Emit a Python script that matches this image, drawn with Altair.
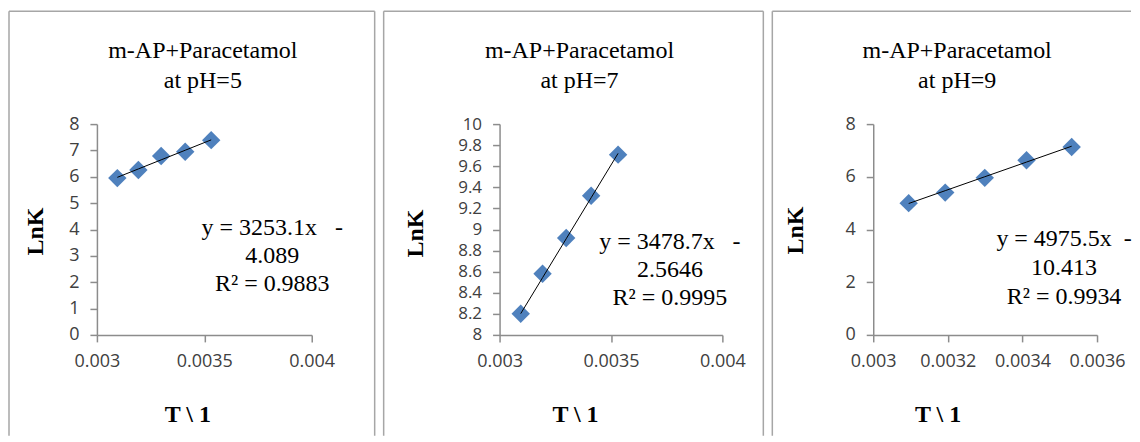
import altair as alt
import pandas as pd

# ---------------- data ----------------
inv_T = [0.003095, 0.003193, 0.003299, 0.003411, 0.003532]
lnk_ph5 = [5.95, 6.26, 6.79, 6.95, 7.39]
lnk_ph7 = [8.20, 8.58, 8.92, 9.32, 9.71]
lnk_ph9 = [5.00, 5.40, 5.96, 6.63, 7.13]

title_line1 = ["m-AP+Paracetamol", "m-AP+Paracetamol", "m-AP+Paracetamol"]
title_line2 = ["at pH=5", "at pH=7", "at pH=9"]

slopes = [3253.1, 3478.7, 4975.5]
intercepts = [-4.089, -2.5646, -10.413]
eq_line1 = ["y = 3253.1x\u00a0\u00a0\u00a0-", "y = 3478.7x\u00a0\u00a0\u00a0-", "y = 4975.5x\u00a0\u00a0-"]
eq_line2 = ["4.089", "2.5646", "10.413"]
eq_line3 = ["R\u00b2 = 0.9883", "R\u00b2 = 0.9995", "R\u00b2 = 0.9934"]

x_domains = [[0.003, 0.004], [0.003, 0.004], [0.003, 0.0036]]
x_ticks = [[0.003, 0.0035, 0.004], [0.003, 0.0035, 0.004], [0.003, 0.0032, 0.0034, 0.0036]]
y_domains = [[0, 8], [8, 10], [0, 8]]
y_ticks = [[0, 1, 2, 3, 4, 5, 6, 7, 8],
           [8, 8.2, 8.4, 8.6, 8.8, 9, 9.2, 9.4, 9.6, 9.8, 10],
           [0, 2, 4, 6, 8]]
x_title = "T \\ 1"
y_title = "LnK"

# ---------------- styling / layout ----------------
SERIF = "Liberation Serif"
SANS = "Open Sans"
FRAME = "#a6a6a6"
AXIS = "#8c8c8c"
BLUE = "#4F81BD"

plot_w = [215, 223, 224]
plot_h = 211
frame_left = [-88, -116, -101]
frame_right = [278, 264, None]
frame_top = -113
frame_bottom = 312
top_rule_end3 = 258
title_cx = [106, 80, 84]
title_y = [-66, -36]
eq_cx = [175.5, 170.5, 191]
eq_y = [[111, 139, 167], [125, 153, 181], [122, 151, 180]]
ytitle_x = [-61.5, -84.5, -77.5]
ytitle_y = [107, 109, 106]
xtitle_x = [90.5, 75.5, 64.5]
xtitle_y = 87
ylabel_size = [18, 17, 18]

one = alt.Data(values=[{"k": 1}])


def txt(s, x, y, size=24, weight="normal"):
    return alt.Chart(one).mark_text(
        text=s, font=SERIF, fontSize=size, fontWeight=weight,
        align="center", baseline="alphabetic", color="black"
    ).encode(x=alt.value(x), y=alt.value(y))


def rule(x1, y1, x2, y2):
    return alt.Chart(one).mark_rule(color=FRAME, strokeWidth=1.5).encode(
        x=alt.value(x1), x2=alt.value(x2), y=alt.value(y1), y2=alt.value(y2)
    )


def panel(i, lnk):
    df = pd.DataFrame({"x": inv_T, "y": lnk})

    def xenc(field):
        return alt.X(
            f"{field}:Q",
            scale=alt.Scale(domain=x_domains[i], nice=False, zero=False),
            axis=alt.Axis(
                values=x_ticks[i], tickCount=len(x_ticks[i]), format="~g", title=x_title,
                titleX=xtitle_x[i], titleY=xtitle_y, titleAlign="center",
                titleBaseline="alphabetic", titleAngle=0,
            ),
        )

    def yenc(field):
        return alt.Y(
            f"{field}:Q",
            scale=alt.Scale(domain=y_domains[i], nice=False, zero=False),
            axis=alt.Axis(
                values=y_ticks[i], tickCount=len(y_ticks[i]), format="~g", title=y_title,
                labelFontSize=ylabel_size[i],
                titleX=ytitle_x[i], titleY=ytitle_y[i], titleAngle=270,
                titleAlign="center", titleBaseline="middle",
            ),
        )

    base = alt.Chart(df)
    pts = base.mark_point(shape="diamond", filled=True, size=340, color=BLUE, opacity=1).encode(
        x=xenc("x"), y=yenc("y")
    )
    trend = base.transform_calculate(
        fit=f"{slopes[i]} * datum.x + ({intercepts[i]})"
    ).mark_line(color="black", strokeWidth=1).encode(x=xenc("x"), y=yenc("fit"))

    layers = []
    fl = frame_left[i]
    fr = frame_right[i]
    if fr is not None:
        layers += [rule(fl, frame_top, fr, frame_top),
                   rule(fr, frame_top, fr, frame_bottom)]
    else:
        layers += [rule(fl, frame_top, top_rule_end3, frame_top)]
    layers += [rule(fl, frame_top, fl, frame_bottom)]
    layers += [pts, trend]
    layers += [txt(title_line1[i], title_cx[i], title_y[0]),
               txt(title_line2[i], title_cx[i], title_y[1])]
    layers += [txt(eq_line1[i], eq_cx[i], eq_y[i][0]),
               txt(eq_line2[i], eq_cx[i], eq_y[i][1]),
               txt(eq_line3[i], eq_cx[i], eq_y[i][2])]
    return alt.layer(*layers).properties(width=plot_w[i], height=plot_h)


chart = alt.hconcat(
    panel(0, lnk_ph5), panel(1, lnk_ph7), panel(2, lnk_ph9), spacing=7
).properties(
    padding={"left": 0, "top": 2, "right": 0, "bottom": 0}
).configure_view(stroke=None).configure_axis(
    grid=False,
    domainColor=AXIS, domainWidth=1.5,
    tickColor=AXIS, tickWidth=1.5, tickSize=7,
    labelFont=SANS, labelFontSize=18, labelColor="#404040", labelPadding=11,
    titleFont=SERIF, titleFontSize=24, titleFontWeight="bold", titleColor="black",
    labelFlush=False, labelOverlap=False,
)

chart.save("out.html", embed_options={"renderer": "svg", "actions": False})
